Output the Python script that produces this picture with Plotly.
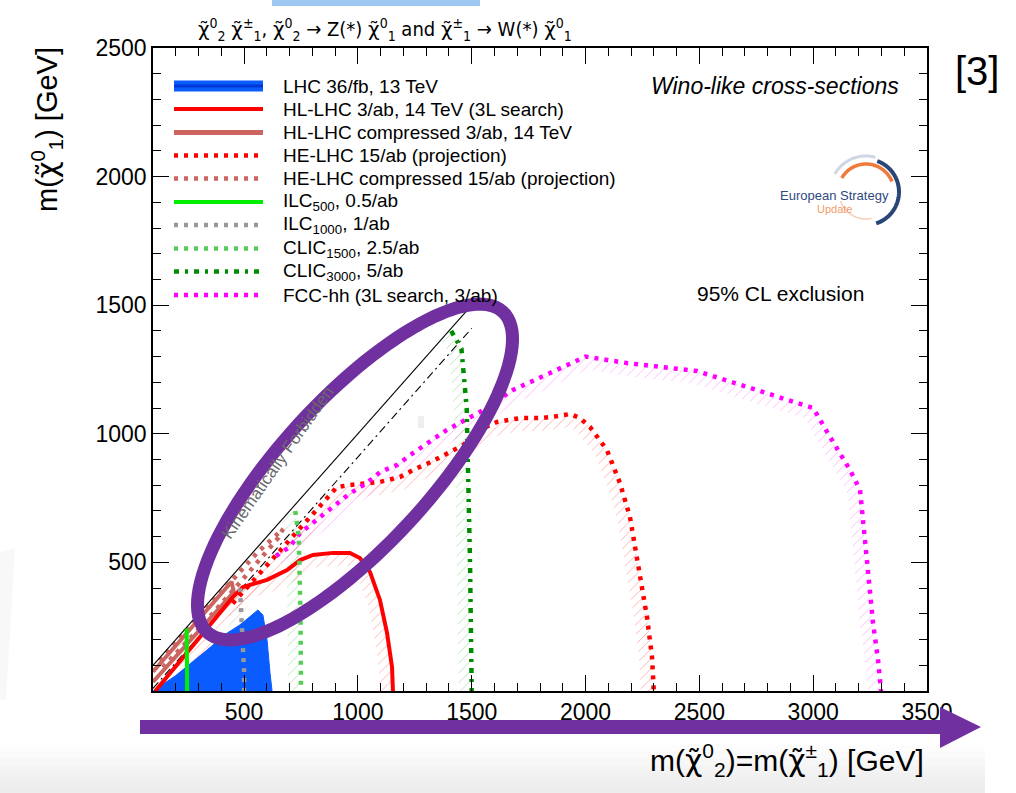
import numpy as np
import plotly.graph_objects as go

# ---------------- data (GeV) ----------------
lhc36_x = [100, 200, 337, 425, 482, 530, 561, 583, 601, 614, 623]
lhc36_y = [0, 60, 159, 225, 257, 290, 315, 295, 198, 70, 0]

hl3l_x = [110, 250, 350, 451, 495, 550, 601, 689, 746, 803, 891, 965, 1009, 1053, 1097, 1128, 1150, 1154]
hl3l_y = [0, 150, 255, 365, 404, 420, 432, 470, 509, 529, 537, 537, 517, 463, 354, 226, 93, 0]

hlcomp_x = [100, 445, 455, 100]
hlcomp_y = [75, 425, 385, 35]

he_x = [450, 600, 700, 850, 908, 966, 1040, 1097, 1185, 1242, 1320, 1391, 1462, 1536, 1611,
        1712, 1800, 1870, 1932, 1976, 2020, 2094, 2151, 2195, 2226, 2248, 2270, 2292, 2300]
he_y = [340, 490, 590, 740, 793, 801, 809, 813, 832, 859, 890, 925, 956, 1015, 1046,
        1061, 1061, 1068, 1077, 1061, 1026, 937, 809, 677, 521, 404, 288, 132, 0]

hecomp_x = [130, 400, 560, 671, 650, 500, 300, 130]
hecomp_y = [118, 385, 540, 630, 595, 440, 240, 80]

ilc500_x = [248, 250, 250]
ilc500_y = [243, 120, 0]

ilc1000_x = [482, 492, 500, 500]
ilc1000_y = [400, 250, 80, 0]

clic1500_x = [725, 740, 748, 750]
clic1500_y = [700, 600, 300, 0]

clic3000_x = [1410, 1455, 1478, 1485, 1493, 1500]
clic3000_y = [1400, 1330, 1100, 870, 480, 0]

fcc_x = [640, 700, 746, 820, 891, 960, 1040, 1097, 1172, 1242, 1391, 1536, 1681, 1800, 1900,
         2000, 2182, 2490, 2753, 3000, 3074, 3162, 3206, 3228, 3241, 3263, 3285, 3298]
fcc_y = [525, 560, 614, 665, 715, 765, 809, 851, 879, 925, 1015, 1085, 1170, 1217, 1260,
         1300, 1275, 1244, 1170, 1100, 988, 859, 781, 587, 459, 264, 121, 0]

kin_x = [100, 1500]
kin_y = [100, 1500]
mz_x = [100, 1500]
mz_y = [10, 1410]

x_ticks = [500, 1000, 1500, 2000, 2500, 3000, 3500]
y_ticks = [500, 1000, 1500, 2000, 2500]

legend_labels = [
    "LHC 36/fb, 13 TeV",
    "HL-LHC 3/ab, 14 TeV (3L search)",
    "HL-LHC compressed 3/ab, 14 TeV",
    "HE-LHC 15/ab (projection)",
    "HE-LHC compressed 15/ab (projection)",
    "ILC<sub>500</sub>, 0.5/ab",
    "ILC<sub>1000</sub>, 1/ab",
    "CLIC<sub>1500</sub>, 2.5/ab",
    "CLIC<sub>3000</sub>, 5/ab",
    "FCC-hh (3L search, 3/ab)",
]

# ---------------- geometry ----------------
W, H = 1016, 793
PL, PR, PT, PB = 153, 927, 48, 691
XMIN, XMAX, YMIN, YMAX = 100, 3500, 0, 2500
SX = (PR - PL) / (XMAX - XMIN)
SY = (PB - PT) / (YMAX - YMIN)

FONT = "Liberation Sans, Arial, Helvetica, sans-serif"
NARROW = "Liberation Sans Narrow, DejaVu Sans Condensed, " + FONT

RED = "#ff0000"
BROWN = "#cc6460"
LIME = "#00ee00"
GRAY = "#999999"
LGREEN = "#55cc55"
DGREEN = "#008c00"
MAG = "#ff00ff"
BLUE = "#0a5cff"
DOT = "4px,6px"
DASHDOT = "5px,6px,3px,6px"


def P(px, py):
    return (px - PL) / (PR - PL), (PB - py) / (PB - PT)


def band(x, y, d=13.0):
    x = np.asarray(x, float)
    y = np.asarray(y, float)
    px = (x - XMIN) * SX
    py = (y - YMIN) * SY
    n = len(px)
    nx = np.zeros(n)
    ny = np.zeros(n)
    for i in range(n - 1):
        dx = px[i + 1] - px[i]
        dy = py[i + 1] - py[i]
        L = np.hypot(dx, dy) or 1.0
        rx, ry = dy / L, -dx / L
        nx[i] += rx; ny[i] += ry
        nx[i + 1] += rx; ny[i + 1] += ry
    L = np.hypot(nx, ny)
    L[L == 0] = 1
    nx /= L
    ny /= L
    ox = px + d * nx
    oy = py + d * ny
    bx = np.concatenate([px, ox[::-1]]) / SX + XMIN
    by = np.concatenate([py, oy[::-1]]) / SY + YMIN
    return bx, by


fig = go.Figure()


def hatch(x, y, col, d=13.0):
    bx, by = band(x, y, d)
    fig.add_trace(go.Scatter(
        x=bx, y=by, mode="lines", fill="toself", line=dict(width=0),
        fillcolor="rgba(0,0,0,0)",
        fillpattern=dict(shape="/", fgcolor=col, bgcolor="rgba(0,0,0,0)",
                         size=7, solidity=0.12, fgopacity=1),
        hoverinfo="skip", showlegend=False))


hatch(hl3l_x, hl3l_y, "rgba(255,80,80,0.5)")
hatch(he_x, he_y, "rgba(255,80,80,0.5)")
hatch(fcc_x, fcc_y, "rgba(255,80,255,0.45)")
hatch(clic1500_x, clic1500_y, "rgba(60,180,60,0.4)")
hatch(clic3000_x, clic3000_y, "rgba(60,180,60,0.4)")
hatch(ilc500_x, ilc500_y, "rgba(60,180,60,0.4)", 8)
hatch(ilc1000_x, ilc1000_y, "rgba(150,150,150,0.4)")

# LHC 36/fb filled region
fig.add_trace(go.Scatter(x=lhc36_x, y=lhc36_y, mode="lines", fill="toself",
                         fillcolor=BLUE, line=dict(color=BLUE, width=1),
                         showlegend=False, hoverinfo="skip"))

line_specs = [
    (hlcomp_x, hlcomp_y, BROWN, 4, "solid"),
    (hecomp_x, hecomp_y, BROWN, 4.5, DOT),
    (kin_x, kin_y, "black", 1.1, "solid"),
    (mz_x, mz_y, "black", 1.1, "8px,4px,2px,4px"),
    (hl3l_x, hl3l_y, RED, 4, "solid"),
    (he_x, he_y, RED, 4.5, DOT),
    (fcc_x, fcc_y, MAG, 4.5, DOT),
    (ilc500_x, ilc500_y, LIME, 4, "solid"),
    (ilc1000_x, ilc1000_y, GRAY, 4.5, DOT),
    (clic1500_x, clic1500_y, LGREEN, 4.5, DOT),
    (clic3000_x, clic3000_y, DGREEN, 4.5, DASHDOT),
]
for xs, ys, c, w, d in line_specs:
    fig.add_trace(go.Scatter(x=xs, y=ys, mode="lines",
                             line=dict(color=c, width=w, dash=d),
                             showlegend=False, hoverinfo="skip"))

shapes = []
annotations = []

# ---------------- custom legend ----------------
leg_y = [86, 109, 132.5, 155.5, 178.5, 202, 225, 248.5, 271.5, 295]
leg_styles = [
    (BLUE, 11, "solid"), (RED, 4, "solid"), (BROWN, 5, "solid"),
    (RED, 4.5, DOT), (BROWN, 4.5, DOT), (LIME, 4, "solid"),
    (GRAY, 4.5, DOT), (LGREEN, 4.5, DOT), (DGREEN, 4.5, DASHDOT), (MAG, 4.5, DOT),
]
for yy, (c, w, d), lab in zip(leg_y, leg_styles, legend_labels):
    x0, y0 = P(174, yy)
    x1, _ = P(263, yy)
    shapes.append(dict(type="line", xref="paper", yref="paper", x0=x0, x1=x1, y0=y0, y1=y0,
                       line=dict(color=c, width=w, dash=d)))
    tx, ty = P(281, yy)
    annotations.append(dict(text=lab, xref="paper", yref="paper", x=tx, y=ty,
                            xanchor="left", yanchor="middle", showarrow=False,
                            font=dict(family=FONT, size=19, color="black")))
x0, y0 = P(174, leg_y[0]); x1, _ = P(263, leg_y[0])
shapes.append(dict(type="line", xref="paper", yref="paper", x0=x0, x1=x1, y0=y0, y1=y0,
                   line=dict(color="#0038d8", width=3)))

# ---------------- texts ----------------
def ann(text, px, py, size, xa="center", ya="middle", color="black", angle=0, family=FONT):
    x, y = P(px, py)
    annotations.append(dict(text=text, xref="paper", yref="paper", x=x, y=y,
                            xanchor=xa, yanchor=ya, showarrow=False, textangle=angle,
                            font=dict(family=family, size=size, color=color)))

chi = '<span style="font-family:DejaVu Sans">χ\u0303</span>'
ann(f"{chi}<sup>0</sup><sub>2</sub> {chi}<sup>±</sup><sub>1</sub>, {chi}<sup>0</sup><sub>2</sub> → Z(*) "
    f"{chi}<sup>0</sup><sub>1</sub> and {chi}<sup>±</sup><sub>1</sub> → W(*) {chi}<sup>0</sup><sub>1</sub>",
    385, 29, 20, family=NARROW)
ann("<i>Wino-like cross-sections</i>", 901, 86, 23, xa="right")
ann("95% CL exclusion", 780, 293, 21)
ann("Kinematically Forbidden", 277, 463, 17, color="#6a6a6a", angle=-55)
ann(f"m({chi}<sup>0</sup><sub>1</sub>) [GeV]", 47, 130, 29, angle=-90)
ann(f"m({chi}<sup>0</sup><sub>2</sub>)=m({chi}<sup>±</sup><sub>1</sub>) [GeV]", 926, 760, 30, xa="right")
ann("[3]", 977, 71, 40)

# logo
ann("European Strategy", 834, 195, 13, color="#2f4a80")
ann("Update", 834, 209, 11, color="#f29a6a")


def arc_path(cx, cy, r, a0, a1, n=40):
    t = np.radians(np.linspace(a0, a1, n))
    pts = [P(cx + r * np.cos(a), cy - r * np.sin(a)) for a in t]
    return "M " + " L ".join(f"{x:.5f},{y:.5f}" for x, y in pts)

shapes.append(dict(type="path", xref="paper", yref="paper", path=arc_path(866, 192, 36, 150, 75),
                   line=dict(color="#cfd6e4", width=3)))
shapes.append(dict(type="path", xref="paper", yref="paper", path=arc_path(866, 192, 28, 150, 22),
                   line=dict(color="#f07a3a", width=3.5)))
shapes.append(dict(type="path", xref="paper", yref="paper", path=arc_path(866, 192, 33, 70, -72),
                   line=dict(color="#2a4677", width=4)))
shapes.append(dict(type="path", xref="paper", yref="paper", path=arc_path(866, 192, 27, -78, -160),
                   line=dict(color="#f8cdb4", width=1.5)))

# tiny grey mark in plot
x0, y0 = P(418, 416); x1, y1 = P(424, 428)
shapes.append(dict(type="rect", xref="paper", yref="paper", x0=x0, x1=x1, y0=y0, y1=y1,
                   line=dict(width=0), fillcolor="#eeeeee", layer="below"))

# ---------------- slide decorations ----------------
grays = ["#fdfdfd", "#fafafa", "#f7f7f7", "#f4f4f4", "#f1f1f1", "#efefef", "#ededed"]
ys = np.linspace(745, 793, len(grays) + 1)
for g, a, b in zip(grays, ys[:-1], ys[1:]):
    x0, y0 = P(0, a); x1, y1 = P(985, b + 1)
    shapes.append(dict(type="rect", xref="paper", yref="paper", x0=x0, x1=x1, y0=y0, y1=y1,
                       line=dict(width=0), fillcolor=g, layer="below"))
pts = [P(0, 552), P(15, 548), P(6, 700), P(0, 700)]
shapes.append(dict(type="path", xref="paper", yref="paper",
                   path="M " + " L ".join(f"{x:.5f},{y:.5f}" for x, y in pts) + " Z",
                   line=dict(width=0), fillcolor="#f8f8f8", layer="below"))
x0, y0 = P(272, 0); x1, y1 = P(480, 6)
shapes.append(dict(type="rect", xref="paper", yref="paper", x0=x0, x1=x1, y0=y0, y1=y1,
                   line=dict(width=0), fillcolor="#9dc8f3"))

PURPLE = "#7030a0"
pts = [P(140, 720), P(940, 720), P(940, 707), P(981, 727), P(940, 748), P(940, 734), P(140, 734)]
shapes.append(dict(type="path", xref="paper", yref="paper",
                   path="M " + " L ".join(f"{x:.5f},{y:.5f}" for x, y in pts) + " Z",
                   line=dict(width=0), fillcolor=PURPLE))
cx, cy, a, b, ang = 355, 472, 218, 74, np.radians(47.3)
t = np.linspace(0, 2 * np.pi, 120)
ex = cx + a * np.cos(t) * np.cos(ang) - b * np.sin(t) * np.sin(ang)
ey = cy - (a * np.cos(t) * np.sin(ang) + b * np.sin(t) * np.cos(ang))
pts = [P(u, v) for u, v in zip(ex, ey)]
shapes.append(dict(type="path", xref="paper", yref="paper",
                   path="M " + " L ".join(f"{x:.5f},{y:.5f}" for x, y in pts) + " Z",
                   line=dict(color=PURPLE, width=13)))

axis_common = dict(showline=True, linecolor="black", linewidth=1.5, mirror="allticks",
                   ticks="inside", ticklen=16, tickwidth=1.3, tickcolor="black",
                   showgrid=False, zeroline=False,
                   tickfont=dict(family=FONT, size=23, color="black"))

fig.update_layout(
    width=W, height=H,
    margin=dict(l=PL, r=W - PR, t=PT, b=H - PB, autoexpand=False),
    paper_bgcolor="white", plot_bgcolor="rgba(0,0,0,0)",
    showlegend=False,
    xaxis=dict(range=[XMIN, XMAX], tickvals=x_ticks,
               minor=dict(ticks="inside", ticklen=8, dtick=100, tickcolor="black", tickwidth=1.2),
               ticklabelstandoff=0, **axis_common),
    yaxis=dict(range=[YMIN, YMAX], tickvals=y_ticks,
               minor=dict(ticks="inside", ticklen=8, dtick=100, tickcolor="black", tickwidth=1.2),
               ticklabelstandoff=0, **axis_common),
    shapes=shapes,
    annotations=annotations,
)

fig.write_html("out.html")
